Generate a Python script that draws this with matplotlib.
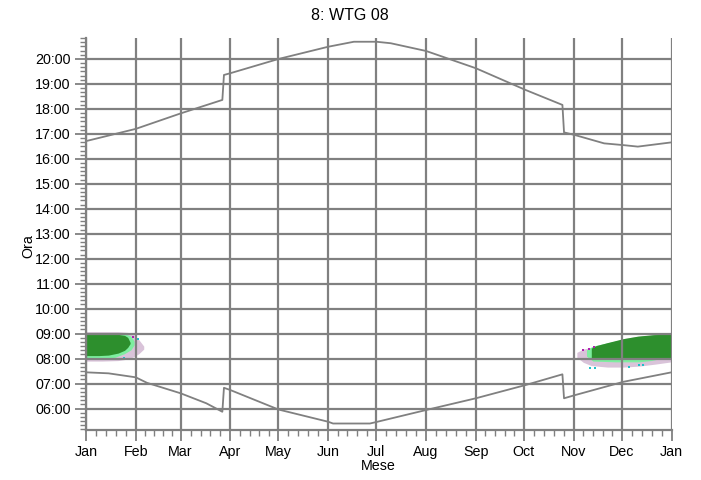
import matplotlib
matplotlib.use("Agg")
import matplotlib.pyplot as plt
from matplotlib.ticker import FixedLocator

# ---------------- data (day of year, hours) ----------------
month_starts = [0, 31, 59, 90, 120, 151, 181, 212, 243, 273, 304, 334, 365]
month_labels = ["Jan", "Feb", "Mar", "Apr", "May", "Jun", "Jul", "Aug",
                "Sep", "Oct", "Nov", "Dec", "Jan"]
hour_ticks = list(range(6, 21))
hour_labels = [f"{h:02d}:00" for h in hour_ticks]

sunset_days = [0, 31, 59, 85, 86, 90, 120, 151, 167, 181, 190, 212, 243, 274,
               297, 298, 305, 323, 335, 344, 365]
sunset_hours = [16.71, 17.20, 17.82, 18.36, 19.36, 19.43, 20.00, 20.49, 20.69,
                20.69, 20.63, 20.32, 19.63, 18.76, 18.16, 17.06, 16.95, 16.62,
                16.55, 16.49, 16.66]

sunrise_days = [0, 14, 31, 38, 59, 75, 85, 86, 90, 120, 151, 154, 177, 181,
                212, 243, 274, 297, 298, 305, 335, 365]
sunrise_hours = [7.45, 7.41, 7.25, 7.03, 6.61, 6.21, 5.87, 6.83, 6.74, 5.96,
                 5.47, 5.40, 5.40, 5.46, 5.94, 6.41, 6.94, 7.37, 6.41, 6.54,
                 7.07, 7.45]

# shadow zones, January
jan_pink_days = [0, 10, 20, 26, 30, 33, 36]
jan_pink_lo = [7.90, 7.90, 7.92, 7.98, 8.08, 8.20, 8.38]
jan_pink_hi = [9.08, 9.08, 9.08, 9.05, 8.95, 8.75, 8.50]
jan_light_days = [0, 10, 18, 24, 28, 30]
jan_light_lo = [8.00, 8.00, 8.05, 8.20, 8.35, 8.55]
jan_light_hi = [9.00, 9.00, 9.00, 9.00, 8.90, 8.70]
jan_dark_days = [0, 8, 14, 20, 24, 26, 27.5]
jan_dark_lo = [8.12, 8.12, 8.14, 8.22, 8.33, 8.45, 8.60]
jan_dark_hi = [8.98, 8.98, 8.98, 8.97, 8.93, 8.85, 8.65]

# shadow zones, November-December
dec_pink_days = [306, 310, 315, 325, 335, 345, 355, 365]
dec_pink_lo = [8.05, 7.85, 7.72, 7.66, 7.66, 7.70, 7.78, 7.87]
dec_pink_hi = [8.25, 8.38, 8.45, 8.60, 8.80, 8.90, 8.96, 8.98]
dec_light_days = [312, 316, 330, 345, 352, 356]
dec_light_lo = [8.10, 7.90, 7.87, 7.87, 7.92, 7.97]
dec_light_hi = [8.35, 8.50, 8.70, 8.88, 8.93, 8.95]
dec_dark_days = [315, 318, 325, 335, 344, 354, 365]
dec_dark_lo = [8.00, 7.98, 7.97, 7.97, 7.97, 7.97, 7.97]
dec_dark_hi = [8.42, 8.52, 8.64, 8.80, 8.90, 8.96, 8.98]

cyan_days = [23.9, 32.7, 314.5, 317.5, 338.5, 345, 347]
cyan_hours = [8.03, 8.78, 7.61, 7.61, 7.67, 7.74, 7.74]
magenta_days = [29.5, 310, 313.5, 316.5]
magenta_hours = [8.86, 8.34, 8.40, 8.47]

# ---------------- style ----------------
GRID = "#808080"
PINK = "#d9c3d9"
LIGHT = "#7eeea0"
DARK = "#2d8f2d"
FONT = ["Liberation Sans", "DejaVu Sans"]
plt.rcParams["font.family"] = FONT

fig = plt.figure(figsize=(7.01, 4.80), dpi=100)
ax = fig.add_axes([86 / 701, 1 - 430 / 480, (671.5 - 86) / 701, (430 - 38) / 480])

ax.set_xlim(0, 365)
ax.set_ylim(5.14, 20.84)

# shadow zones
for days, lo, hi, c in [
    (jan_pink_days, jan_pink_lo, jan_pink_hi, PINK),
    (jan_light_days, jan_light_lo, jan_light_hi, LIGHT),
    (jan_dark_days, jan_dark_lo, jan_dark_hi, DARK),
    (dec_pink_days, dec_pink_lo, dec_pink_hi, PINK),
    (dec_light_days, dec_light_lo, dec_light_hi, LIGHT),
    (dec_dark_days, dec_dark_lo, dec_dark_hi, DARK),
]:
    ax.fill_between(days, lo, hi, color=c, lw=0, zorder=2)
ax.scatter(cyan_days, cyan_hours, s=4, marker="s", color="#22bfc8", lw=0, zorder=3)
ax.scatter(magenta_days, magenta_hours, s=4, marker="s", color="#b020b0", lw=0, zorder=3)

# grid lines drawn over the fill
for d in month_starts:
    ax.axvline(d, color=GRID, lw=1.6, zorder=3.5)
for h in hour_ticks:
    ax.axhline(h, color=GRID, lw=1.6, zorder=3.5)

# sunrise / sunset
ax.plot(sunset_days, sunset_hours, color=GRID, lw=1.3, zorder=4)
ax.plot(sunrise_days, sunrise_hours, color=GRID, lw=1.3, zorder=4)

# spines
for s in ["top", "right"]:
    ax.spines[s].set_visible(False)
for s in ["left", "bottom"]:
    ax.spines[s].set_color(GRID)
    ax.spines[s].set_linewidth(1.6)

# ticks
ax.xaxis.set_major_locator(FixedLocator(month_starts))
ax.set_xticklabels(month_labels)
minor_x = []
for a, b in zip(month_starts[:-1], month_starts[1:]):
    minor_x += [a + (b - a) * k / 5 for k in range(1, 5)]
ax.xaxis.set_minor_locator(FixedLocator(minor_x))
ax.yaxis.set_major_locator(FixedLocator(hour_ticks))
ax.set_yticklabels(hour_labels)
minor_y = [5 + k / 6 for k in range(1, 6 * 16) if (5 + k / 6) <= 20.84 and k % 6 != 0]
ax.yaxis.set_minor_locator(FixedLocator(minor_y))

ax.tick_params(axis="both", which="major", direction="out", length=8,
               width=1.3, color=GRID, labelsize=10.3, labelcolor="black")
ax.tick_params(axis="both", which="minor", direction="out", length=4,
               width=1.0, color=GRID)
ax.tick_params(axis="y", which="major", pad=3)
ax.tick_params(axis="x", which="major", pad=3)

ax.set_xlabel("Mese", fontsize=10.3)
ax.xaxis.set_label_coords(0.5, -(459 - 430) / 392)
ax.set_ylabel("Ora", fontsize=10.3)
ax.yaxis.set_label_coords(-(86 - 35) / 585.5, (430 - 246.5) / 392)

fig.text(350 / 701, 1 - 15 / 480, "8: WTG 08", ha="center",
         va="center", fontsize=11.5)

fig.savefig("out.png", dpi=100)
